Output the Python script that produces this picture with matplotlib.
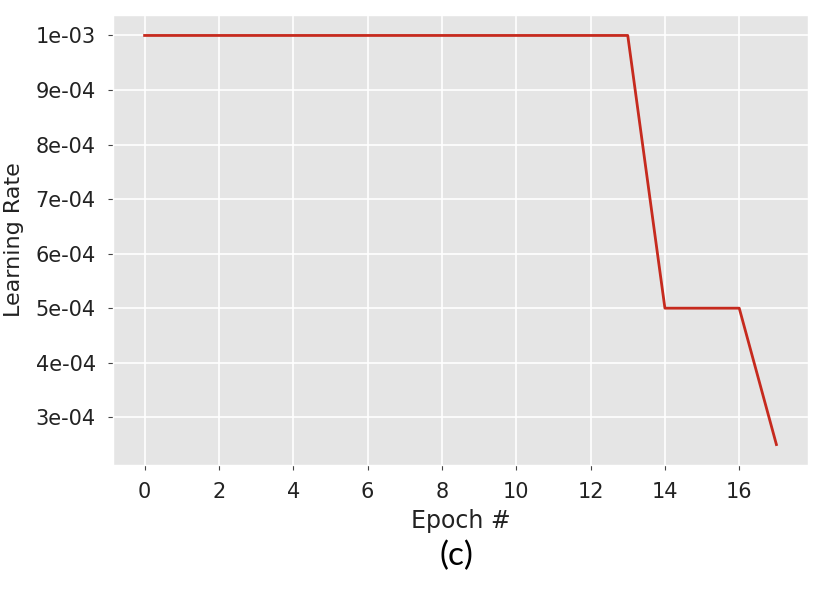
import matplotlib
matplotlib.use("Agg")
import matplotlib.pyplot as plt
from matplotlib.ticker import FuncFormatter

plt.style.use("ggplot")

epochs = list(range(18))
learning_rate = [1e-3] * 14 + [5e-4, 5e-4, 5e-4] + [2.5e-4]

fig = plt.figure(figsize=(8.22, 5.99), dpi=100)
ax = fig.add_axes([113 / 822, 1 - 465 / 599, (808 - 113) / 822, (465 - 15) / 599])

ax.plot(epochs, learning_rate, color="#C62A1E", linewidth=2)

ax.set_xticks(range(0, 17, 2))
ax.yaxis.set_major_formatter(FuncFormatter(lambda v, p: "%.0e" % v))
ax.tick_params(axis="both", labelsize=15, labelcolor="#222222", color="#444444")
ax.tick_params(axis="x", pad=9)
ax.tick_params(axis="y", pad=9)
ax.set_xlabel("Epoch #", fontsize=17, color="#222222", labelpad=5)
ax.set_ylabel("Learning Rate", fontsize=16, color="#222222", labelpad=8)
ax.grid(True, color="white", linewidth=1.2)

fig.text(456 / 822, 1 - 556 / 599, "(c)", ha="center", va="center",
         fontsize=24, family=["Lato", "DejaVu Sans"], color="black")

fig.savefig("out.png", dpi=100, facecolor="white")
